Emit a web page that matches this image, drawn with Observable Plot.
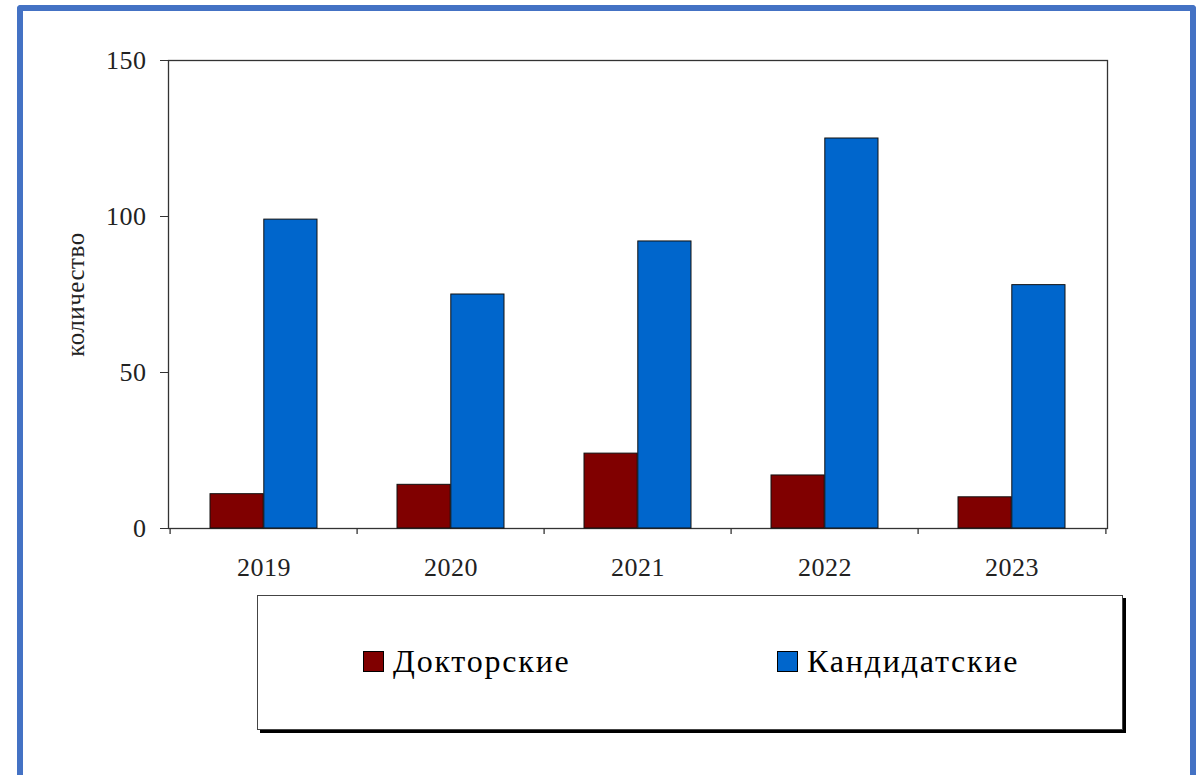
<!DOCTYPE html>
<html>
<head>
<meta charset="utf-8">
<script src="https://cdn.jsdelivr.net/npm/d3@7"></script>
<script src="https://cdn.jsdelivr.net/npm/@observablehq/plot@0.6"></script>
<style>
  body { margin: 0; background: #fff; }
  #wrap { position: relative; width: 1203px; height: 775px; overflow: hidden; font-family: "Liberation Serif", serif; background: #fff; }
  #frame { position: absolute; left: 17px; top: 5px; width: 1167px; height: 820px; border: 6px solid #4472C4; border-bottom: none; border-radius: 4px 4px 0 0; box-sizing: content-box; }
  #chart { position: absolute; left: 0; top: 0; }
  #legend { position: absolute; left: 257px; top: 595px; width: 864px; height: 133px; border: 1px solid #444; box-shadow: 3px 3px 0 #000; background: #fff; }
  .item { position: absolute; top: 55px; height: 21px; display: flex; align-items: center; white-space: nowrap; }
  .sw { width: 19px; height: 19px; border: 1px solid #000; margin-right: 9px; }
  .lab { font-size: 32px; letter-spacing: 1.8px; line-height: 21px; color: #000; }
  #chart svg text { letter-spacing: 0.5px; }
</style>
</head>
<body>
<div id="wrap">
  <div id="frame"></div>
  <div id="chart"></div>
  <div id="legend"></div>
</div>
<script>
const years = ["2019", "2020", "2021", "2022", "2023"];
const doctoral = [11, 14, 24, 17, 10];
const candidate = [99, 75, 92, 125, 78];
const seriesNames = ["Докторские", "Кандидатские"];
const seriesColors = ["#800000", "#0066CC"];
const yTicks = [0, 50, 100, 150];
const yLabel = "количество";

const rows = [];
years.forEach((y, i) => {
  rows.push({year: y, series: seriesNames[0], value: doctoral[i]});
  rows.push({year: y, series: seriesNames[1], value: candidate[i]});
});

const W = 1203, H = 590;
const mL = 168, mR = 96, mT = 60, mB = 62;
const bw = (W - mL - mR) / years.length;
const outer = bw * 0.213;
const barW = bw * 0.2875;
const innerFar = bw - outer - barW;

const fontStack = "Liberation Serif, serif";

const plot = Plot.plot({
  width: W,
  height: H,
  marginLeft: mL,
  marginRight: mR,
  marginTop: mT,
  marginBottom: mB,
  style: {fontFamily: fontStack, background: "transparent", color: "#222"},
  x: {domain: years, padding: 0, label: null},
  y: {domain: [0, 150], label: null},
  color: {domain: seriesNames, range: seriesColors},
  marks: [
    Plot.frame({stroke: "#333", strokeWidth: 1.3}),
    Plot.barY(rows.filter(d => d.series === seriesNames[0]), {
      x: "year", y: "value", fill: "series", stroke: "#111", strokeWidth: 1,
      insetLeft: outer, insetRight: innerFar
    }),
    Plot.barY(rows.filter(d => d.series === seriesNames[1]), {
      x: "year", y: "value", fill: "series", stroke: "#111", strokeWidth: 1,
      insetLeft: innerFar, insetRight: outer
    }),
    Plot.ruleX(years, {x: d => d, dx: -bw / 2, y1: 0, y2: 0, insetBottom: -6, stroke: "#333", strokeWidth: 1.3}),
    Plot.ruleX(years.slice(-1), {x: d => d, dx: bw / 2, y1: 0, y2: 0, insetBottom: -6, stroke: "#333", strokeWidth: 1.3}),
    Plot.axisX({tickSize: 0, tickPadding: 29, fontSize: 26, label: null}),
    Plot.axisY({ticks: yTicks, tickSize: 8, tickPadding: 14, fontSize: 26, label: null, stroke: "#333"}),
    Plot.text([yLabel], {frameAnchor: "left", textAnchor: "middle", rotate: -90, dx: -93, text: d => d, fontSize: 25, fill: "#222"})
  ]
});
document.getElementById("chart").appendChild(plot);

const legend = document.getElementById("legend");
const itemLefts = [105, 519];
seriesNames.forEach((name, i) => {
  const it = document.createElement("div");
  it.className = "item";
  it.style.left = itemLefts[i] + "px";
  const sw = document.createElement("div");
  sw.className = "sw";
  sw.style.background = seriesColors[i];
  const lab = document.createElement("span");
  lab.className = "lab";
  lab.textContent = name;
  it.appendChild(sw);
  it.appendChild(lab);
  legend.appendChild(it);
});
</script>
</body>
</html>
